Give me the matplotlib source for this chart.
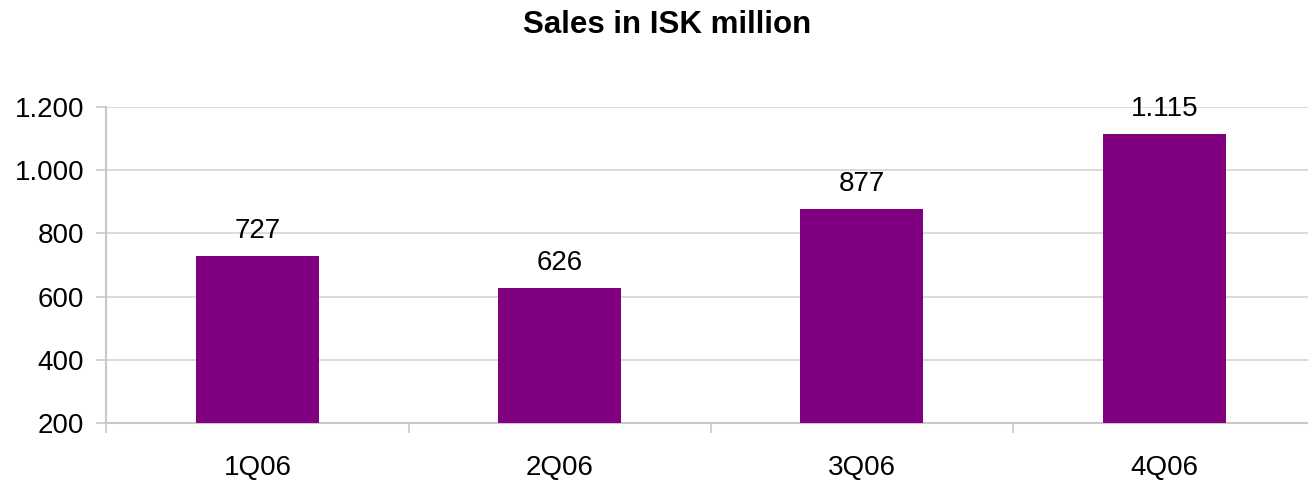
import matplotlib.pyplot as plt
from matplotlib.ticker import FuncFormatter, FixedLocator

plt.rcParams['font.family'] = ['Liberation Sans', 'DejaVu Sans']

quarters = ['1Q06', '2Q06', '3Q06', '4Q06']
sales = [727, 626, 877, 1115]
y_ticks = [200, 400, 600, 800, 1000, 1200]


def dotted(v, pos=None):
    return f'{int(v):,}'.replace(',', '.')


fig = plt.figure(figsize=(13.08, 4.84), dpi=100)
ax = fig.add_axes([0.0813, 0.126, 0.9243, 0.653])

x = range(len(quarters))
ax.bar(x, [s - 200 for s in sales], bottom=200, width=0.407, color='#800080', zorder=3)

for xi, s in zip(x, sales):
    ax.annotate(dotted(s), (xi, s), xytext=(0, 13), textcoords='offset points',
                ha='center', va='baseline', fontsize=20)

ax.set_xlim(-0.5, len(quarters) - 0.5)
ax.set_ylim(200, 1200)
ax.set_yticks(y_ticks)
ax.yaxis.set_major_formatter(FuncFormatter(dotted))
ax.yaxis.grid(True, color='#d4d4d4', linewidth=1.2, zorder=0)

# category labels centred, tick marks on the category boundaries
ax.set_xticks(list(x))
ax.set_xticklabels(quarters)
ax.xaxis.set_minor_locator(FixedLocator([i - 0.5 for i in range(len(quarters) + 1)]))
ax.tick_params(axis='x', which='major', length=0, pad=23, labelsize=20)
ax.tick_params(axis='x', which='minor', length=7, width=1.2, color='#c8c8c8', direction='out')
ax.tick_params(axis='y', length=7, width=1.2, color='#c8c8c8', labelsize=20, pad=9)

for side in ['top', 'right']:
    ax.spines[side].set_visible(False)
for side in ['left', 'bottom']:
    ax.spines[side].set_color('#c8c8c8')
    ax.spines[side].set_linewidth(1.5)

fig.text(0.51, 0.948, 'Sales in ISK million', ha='center', va='center',
         fontsize=22.5, fontweight='bold')

fig.savefig('out.png', dpi=100)
